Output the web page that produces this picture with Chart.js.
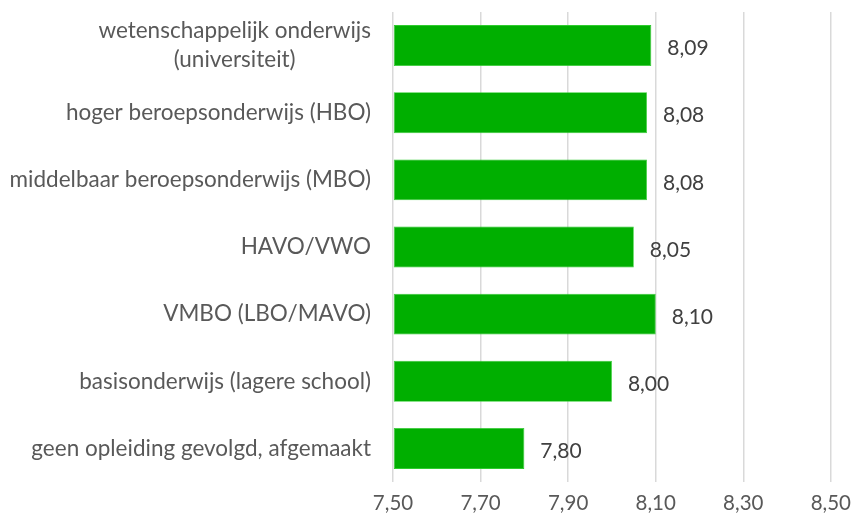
<!DOCTYPE html>
<html>
<head>
<meta charset="utf-8">
<script src="https://cdn.jsdelivr.net/npm/chart.js@4/dist/chart.umd.min.js"></script>
<style>
  html, body { margin: 0; padding: 0; background: #fff; }
  #wrap { width: 860px; height: 525px; }
</style>
</head>
<body>
<div id="wrap"><canvas id="grafiek"></canvas></div>
<script>
// Opleidingsniveaus en gemiddelde rapportcijfers
const categorieen = [
  ['wetenschappelijk onderwijs', '(universiteit)'],
  ['hoger beroepsonderwijs (HBO)'],
  ['middelbaar beroepsonderwijs (MBO)'],
  ['HAVO/VWO'],
  ['VMBO (LBO/MAVO)'],
  ['basisonderwijs (lagere school)'],
  ['geen opleiding gevolgd, afgemaakt']
];
const cijfers = [8.09, 8.08, 8.08, 8.05, 8.10, 8.00, 7.80];
const asMin = 7.5;
const asMax = 8.5;
const asStap = 0.2;

const FONT = 'Lato, "Open Sans", sans-serif';
const fmt = v => v.toFixed(2).replace('.', ',');

// Labels links van de as: regels onderling gecentreerd, blok rechts uitgelijnd
const categorieLabels = {
  id: 'categorieLabels',
  afterDraw(chart) {
    const ctx = chart.ctx;
    const y = chart.scales.y;
    ctx.save();
    ctx.font = '22.5px ' + FONT;
    ctx.fillStyle = '#595959';
    ctx.textAlign = 'center';
    ctx.textBaseline = 'middle';
    const lh = 29;
    categorieen.forEach((regels, i) => {
      const cy = y.getPixelForValue(i);
      const breedte = Math.max(...regels.map(r => ctx.measureText(r).width));
      const cx = 371 - breedte / 2;
      regels.forEach((r, j) => {
        ctx.fillText(r, cx, cy + (j - (regels.length - 1) / 2) * lh);
      });
    });
    ctx.restore();
  }
};

// Waarde naast elke balk
const waardeLabels = {
  id: 'waardeLabels',
  afterDatasetsDraw(chart) {
    const ctx = chart.ctx;
    const meta = chart.getDatasetMeta(0);
    ctx.save();
    ctx.font = '21px ' + FONT;
    ctx.fillStyle = '#404040';
    ctx.textAlign = 'left';
    ctx.textBaseline = 'middle';
    meta.data.forEach((bar, i) => {
      ctx.fillText(fmt(cijfers[i]), bar.x + 16, bar.y + 3);
    });
    ctx.restore();
  }
};

new Chart(document.getElementById('grafiek'), {
  type: 'bar',
  data: {
    labels: categorieen,
    datasets: [{
      data: cijfers,
      base: asMin,
      backgroundColor: '#00AF00',
      borderColor: '#2ECC2E',
      borderWidth: 0.8,
      borderSkipped: false,
      barPercentage: 0.61,
      categoryPercentage: 1
    }]
  },
  options: {
    indexAxis: 'y',
    responsive: true,
    maintainAspectRatio: false,
    animation: false,
    layout: { padding: { left: 0, right: 27, top: 12, bottom: 0 } },
    plugins: {
      legend: { display: false },
      tooltip: { enabled: false }
    },
    scales: {
      x: {
        min: asMin,
        max: asMax,
        border: { display: false },
        grid: { color: '#D9D9D9', lineWidth: 1.5, drawTicks: false },
        ticks: {
          stepSize: asStap,
          padding: 9,
          color: '#595959',
          font: { family: FONT, size: 20.5 },
          callback: v => fmt(v)
        },
        afterFit(s) { s.height = 43; }
      },
      y: {
        border: { display: false },
        grid: { display: false, drawTicks: false },
        ticks: { display: false },
        afterFit(s) { s.width = 393; }
      }
    }
  },
  plugins: [categorieLabels, waardeLabels]
});
</script>
</body>
</html>
